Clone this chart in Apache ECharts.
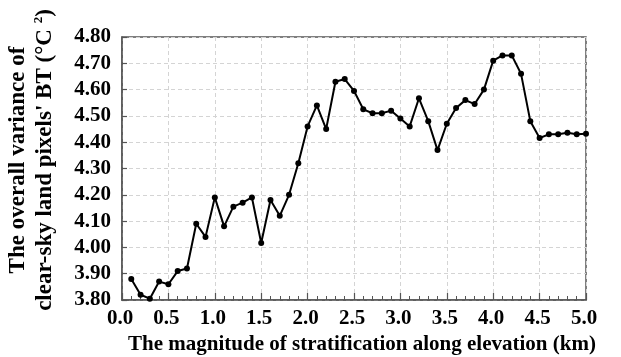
<!DOCTYPE html>
<html><head><meta charset="utf-8">
<script src="https://cdn.jsdelivr.net/npm/echarts@6/dist/echarts.min.js"></script>
<style>html,body{margin:0;padding:0;background:#fff}#c{width:621px;height:357px}</style>
</head><body><div id="c"></div>
<script>
const stratKm = [0.1,0.2,0.3,0.4,0.5,0.6,0.7,0.8,0.9,1.0,1.1,1.2,1.3,1.4,1.5,1.6,1.7,1.8,1.9,2.0,2.1,2.2,2.3,2.4,2.5,2.6,2.7,2.8,2.9,3.0,3.1,3.2,3.3,3.4,3.5,3.6,3.7,3.8,3.9,4.0,4.1,4.2,4.3,4.4,4.5,4.6,4.7,4.8,4.9,5.0];
const variance = [3.88,3.82,3.805,3.87,3.86,3.91,3.92,4.09,4.04,4.19,4.08,4.155,4.17,4.19,4.017,4.18,4.12,4.20,4.32,4.46,4.54,4.45,4.63,4.64,4.595,4.525,4.51,4.51,4.52,4.49,4.46,4.567,4.48,4.37,4.47,4.53,4.56,4.545,4.60,4.71,4.73,4.73,4.66,4.48,4.416,4.43,4.43,4.436,4.43,4.432];
const xTitle = 'The magnitude of stratification along elevation (km)';
const yTitleLine1 = 'The overall variance of';
const yTitleLine2 = "clear-sky land pixels' BT (°C ";
const yTitleSup = '2';

const font = '"Liberation Serif","Times New Roman",serif';
const chart = echarts.init(document.getElementById('c'));
chart.setOption({
  animation: false,
  grid: {left: 122, right: 35, top: 37, bottom: 57, outerBoundsMode: 'none', containLabel: false, show: true, borderColor: '#555', borderWidth: 1.5, backgroundColor: 'transparent'},
  xAxis: {
    type: 'value', min: 0, max: 5, interval: 0.5,
    axisLine: {lineStyle: {color: '#555', width: 1.5}},
    axisTick: {inside: true, length: 7, lineStyle: {color: '#555', width: 1.2}},
    minorTick: {show: true, splitNumber: 5, length: 4, lineStyle: {color: '#555', width: 1}},
    splitLine: {show: true, lineStyle: {color: '#d4d4d4', type: [4, 3], width: 1}},
    axisLabel: {formatter: v => v.toFixed(1), color: '#000', fontFamily: font, fontWeight: 'bold', fontSize: 21, margin: 8, padding: [0, 4, 0, 0]},
    name: xTitle, nameLocation: 'middle', nameGap: 32,
    nameTextStyle: {color: '#000', fontFamily: font, fontWeight: 'bold', fontSize: 21, padding: [0,0,0,16]}
  },
  yAxis: {
    type: 'value', min: 3.8, max: 4.8, interval: 0.1,
    axisLine: {show: true, lineStyle: {color: '#555', width: 1.5}},
    axisTick: {show: true, inside: true, length: 5, lineStyle: {color: '#555', width: 1.2}},
    splitLine: {show: true, lineStyle: {color: '#d4d4d4', type: [4, 3], width: 1}},
    axisLabel: {formatter: v => v.toFixed(2), color: '#000', fontFamily: font, fontWeight: 'bold', fontSize: 21, margin: 11}
  },
  graphic: [
    {type: 'text', x: 18, y: 160, rotation: Math.PI / 2,
     style: {text: yTitleLine1, fill: '#000', font: 'bold 23px ' + font, align: 'center', verticalAlign: 'middle'}},
    {type: 'text', x: 45, y: 160, rotation: Math.PI / 2,
     style: {text: '{t|' + yTitleLine2 + '}{s|' + yTitleSup + '}{t|)}', fill: '#000', align: 'center', verticalAlign: 'middle',
       rich: {
         t: {fontFamily: font, fontWeight: 'bold', fontSize: 23, fill: '#000', lineHeight: 26},
         s: {fontFamily: font, fontWeight: 'bold', fontSize: 13, fill: '#000', verticalAlign: 'top', lineHeight: 13, padding: [0, 0, 12, 0]}
       }}}
  ],
  series: [{
    type: 'line',
    data: stratKm.map((x, i) => [x, variance[i]]),
    symbol: 'circle', symbolSize: 6,
    lineStyle: {color: '#000', width: 2},
    itemStyle: {color: '#000'}
  }]
});
</script></body></html>
